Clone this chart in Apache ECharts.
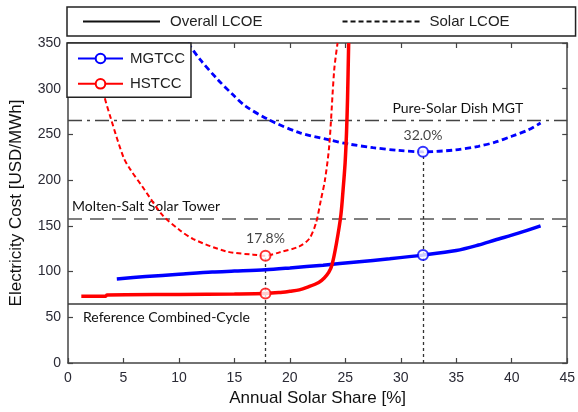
<!DOCTYPE html>
<html>
<head>
<meta charset="utf-8">
<script src="https://cdn.jsdelivr.net/npm/echarts@6/dist/echarts.min.js"></script>
<style>
html,body{margin:0;padding:0;background:#fff;}
#chart{width:578px;height:412px;}
</style>
</head>
<body>
<div id="chart"></div>
<script>
// ---- Data ----
const xTicks = [0, 5, 10, 15, 20, 25, 30, 35, 40, 45];
const yTicks = [0, 50, 100, 150, 200, 250, 300, 350];

// MGTCC overall LCOE (solid blue)
const mgtccOverall = [[4.4,92],[7,94.5],[10,97],[13,99.5],[15,100.5],[17.8,102],[20,104],[23,107],[26,110.5],[29,114],[32,118],[35,123],[37,129],[38.5,134.5],[40.6,142],[42.6,150]];
// MGTCC solar LCOE (dashed blue)
const mgtccSolar = [[10.8,350],[11.9,332],[13.5,310],[14.9,293],[16,281],[18.1,266],[20.85,252],[23.55,244],[25.3,239.5],[27.5,235.5],[29.8,232.5],[32,231],[34.9,233],[37,237],[38.5,241.5],[40,248],[41.5,255],[42.6,262.5]];
// HSTCC overall LCOE (solid red)
const hstccOverall = [[1.2,73],[3.4,73],[3.5,74.5],[10,75],[15,75.5],[17.8,76],[19,77],[20,78.5],[20.85,80],[21.6,83],[22.6,88],[23.1,93],[23.5,99],[23.8,107.5],[24.2,131],[24.6,162],[24.8,190],[24.98,219],[25.1,250],[25.2,290],[25.3,350]];
// HSTCC solar LCOE (dashed red)
const hstccSolar = [[2.75,350],[3.17,298],[3.9,266],[5.0,225],[5.6,212],[6.7,193],[8.5,162],[10,146],[11.3,135.5],[14.3,122],[16.7,118.5],[17.8,117.4],[19.06,121],[20.85,127.5],[21.75,136],[22.35,153],[22.8,178.6],[23.16,200],[23.55,238],[24.0,321],[24.3,350]];

// Optimum solar shares
const optimumShare = [17.8, 32.0];
const optimumSolar = [117.4, 231];
const optimumOverall = [76, 118];
const optimumLabels = ['17.8%', '32.0%'];

// Reference technologies
const refLevels = [65, 158, 265];
const refNames = ['Reference Combined-Cycle', 'Molten-Salt Solar Tower', 'Pure-Solar Dish MGT'];

const BLUE = '#0000ff', RED = '#ff0000';
const FONT = 'Liberation Sans';
const ANN_FONT = 'Lato';

const chart = echarts.init(document.getElementById('chart'), null, {renderer: 'canvas'});

const axisCommon = {
  type: 'value',
  axisLine: {show: true, onZero: false, lineStyle: {color: '#444', width: 1.5}},
  axisTick: {show: true, inside: true, length: 5, lineStyle: {color: '#444', width: 1.2}},
  splitLine: {show: false}
};

const option = {
  animation: false,
  backgroundColor: '#fff',
  grid: {left: 68, right: 9, top: 43, bottom: 49, show: false},
  xAxis: [
    Object.assign({}, axisCommon, {
      position: 'bottom', min: 0, max: 45, interval: 5,
      axisLabel: {show: true, margin: 8, color: '#2a2a35', fontFamily: FONT, fontSize: 14},
      name: 'Annual Solar Share [%]', nameLocation: 'middle', nameGap: 27,
      nameTextStyle: {color: '#111', fontFamily: FONT, fontSize: 17}
    }),
    Object.assign({}, axisCommon, {
      position: 'top', min: 0, max: 45, interval: 5, axisLabel: {show: false}
    })
  ],
  yAxis: [
    Object.assign({}, axisCommon, {
      position: 'left', min: 0, max: 350, interval: 50,
      axisLabel: {show: true, margin: 7, color: '#2a2a35', fontFamily: FONT, fontSize: 14},
      name: 'Electricity Cost [USD/MWh]', nameLocation: 'middle', nameGap: 43,
      nameTextStyle: {color: '#111', fontFamily: FONT, fontSize: 17}
    }),
    Object.assign({}, axisCommon, {
      position: 'right', min: 0, max: 350, interval: 50, axisLabel: {show: false}
    })
  ],
  legend: [
    {
      data: ['Overall LCOE', 'Solar LCOE'],
      orient: 'horizontal', left: 67, top: 7,
      padding: [7, 66, 7, 15],
      itemWidth: 77, itemHeight: 14, itemGap: 79,
      borderColor: '#222', borderWidth: 1.5, backgroundColor: '#fff',
      itemStyle: {opacity: 0},
      textStyle: {color: '#222', fontFamily: FONT, fontSize: 15, padding: [0, 0, 0, 5]},
      selectedMode: false
    },
    {
      data: ['MGTCC', 'HSTCC'],
      orient: 'vertical', left: 67, top: 43,
      padding: [8, 6, 6, 10],
      itemWidth: 45, itemHeight: 12, itemGap: 10.3,
      borderColor: '#222', borderWidth: 1.5, backgroundColor: '#fff',
      textStyle: {color: '#222', fontFamily: FONT, fontSize: 15, padding: [0, 0, 0, 2]},
      selectedMode: false, z: 20
    }
  ],
  series: [
    {
      name: 'Overall LCOE', type: 'line', data: [], symbol: 'none',
      color: '#111', lineStyle: {color: '#111', width: 2.5, type: 'solid'}
    },
    {
      name: 'Solar LCOE', type: 'line', data: [], symbol: 'none',
      color: '#111', lineStyle: {color: '#111', width: 2.5, type: [5, 3]}
    },
    {
      name: 'MGTCC', type: 'line', data: mgtccOverall,
      symbol: 'emptyCircle', showSymbol: false, smooth: 0.3,
      color: BLUE, lineStyle: {color: BLUE, width: 3.5}, z: 5,
      markLine: {
        silent: true, symbol: ['none', 'none'], z: 1,
        data: [
          {yAxis: refLevels[0], lineStyle: {color: '#3a3a3a', width: 1.5, type: 'solid'},
           label: {show: true, formatter: refNames[0], position: 'insideStartBottom', distance: [15, 7], color: '#111', fontFamily: ANN_FONT, fontSize: 14}},
          {yAxis: refLevels[1], lineStyle: {color: '#555', width: 1.5, type: [14, 8]},
           label: {show: true, formatter: refNames[1], position: 'insideStartTop', distance: [4, 5], color: '#111', fontFamily: ANN_FONT, fontSize: 14}},
          {yAxis: refLevels[2], lineStyle: {color: '#444', width: 1.3, type: [14, 5, 3, 5]},
           label: {show: true, formatter: refNames[2], position: 'insideEndTop', distance: [44, 5], color: '#111', fontFamily: ANN_FONT, fontSize: 14}}
        ]
      }
    },
    {
      name: 'MGTCC solar', type: 'line', data: mgtccSolar,
      symbol: 'none', smooth: 0.3,
      color: BLUE, lineStyle: {color: BLUE, width: 2.8, type: [6, 3.5]}, z: 4
    },
    {
      name: 'HSTCC', type: 'line', data: hstccOverall,
      symbol: 'emptyCircle', showSymbol: false, smooth: 0.3,
      color: RED, lineStyle: {color: RED, width: 3.5}, z: 5
    },
    {
      name: 'HSTCC solar', type: 'line', data: hstccSolar,
      symbol: 'none', smooth: 0.3,
      color: RED, lineStyle: {color: RED, width: 2, type: [5, 3]}, z: 4
    },
    {
      name: 'Optimum solar', type: 'scatter', z: 6,
      symbol: 'emptyCircle', symbolSize: 10,
      itemStyle: {borderWidth: 2},
      data: optimumShare.map((x, i) => ({
        value: [x, optimumSolar[i]],
        itemStyle: {color: i === 0 ? RED : BLUE, borderColor: i === 0 ? RED : BLUE},
        label: {show: true, formatter: optimumLabels[i], position: 'top', distance: i === 0 ? 4 : 3,
                color: '#111', fontFamily: ANN_FONT, fontSize: 14}
      })),
      markLine: {
        silent: true, symbol: ['none', 'none'], z: 1,
        lineStyle: {color: '#333', width: 1.3, type: [3, 3]},
        label: {show: false},
        data: optimumShare.map((x, i) => [{coord: [x, 0]}, {coord: [x, optimumSolar[i]]}])
      }
    },
    {
      name: 'Optimum overall', type: 'scatter', z: 6,
      symbol: 'emptyCircle', symbolSize: 10,
      itemStyle: {borderWidth: 2},
      data: optimumShare.map((x, i) => ({
        value: [x, optimumOverall[i]],
        itemStyle: {color: i === 0 ? RED : BLUE, borderColor: i === 0 ? RED : BLUE}
      }))
    }
  ]
};
chart.setOption(option);
</script>
</body>
</html>
